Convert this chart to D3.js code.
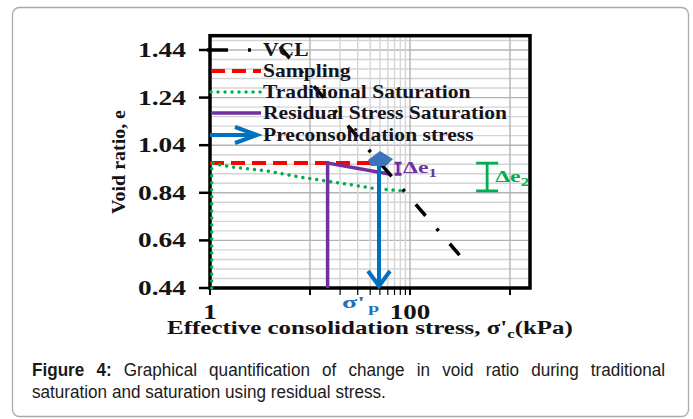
<!DOCTYPE html>
<html>
<head>
<meta charset="utf-8">
<script src="https://cdn.jsdelivr.net/npm/d3@7"></script>
<style>
  body { margin: 0; background: #fff; }
</style>
</head>
<body>
<script>
    // values (stress in kPa, e = void ratio)
    const vcl = [{ s: 5.0, e: 1.453 }, { s: 325, e: 0.57 }];
    const sampling = [{ s: 1, e: 0.965 }, { s: 50, e: 0.965 }];
    const traditional = [
      { s: 1.04, e: 0.44 }, { s: 1.04, e: 0.965 }, { s: 1.15, e: 0.96 },
      { s: 1.7, e: 0.948 }, { s: 3.7, e: 0.932 }, { s: 7.9, e: 0.906 },
      { s: 20, e: 0.881 }, { s: 44, e: 0.858 }, { s: 85, e: 0.848 }
    ];
    const residual = [{ s: 15, e: 0.44 }, { s: 15, e: 0.965 }, { s: 64, e: 0.918 }];
    const precon = 49;               // sigma'p
    const de1At = 76, de2At = 591;   // where the delta-e bars stand

    const yTicks = [0.44, 0.64, 0.84, 1.04, 1.24, 1.44];
    const xTickLabels = [1, 100];
    const xTickMarks = [1, 10, 20, 30, 40, 50, 60, 70, 80, 90, 100, 1000];
    const legendNames = ["VCL", "Sampling", "Traditional Saturation",
      "Residual Stress Saturation", "Preconsolidation stress"];
    const captionLine1 = ["Graphical", "quantification", "of", "change", "in", "void", "ratio", "during", "traditional"];
    const captionLine2 = "saturation and saturation using residual stress.";

    const W = 693, H = 419;
    const serif = "'Liberation Serif','Times New Roman',serif";

    const svg = d3.select("body").append("svg")
      .attr("width", W).attr("height", H)
      .style("font-family", serif);

    // card outline
    svg.append("rect")
      .attr("x", 12.5).attr("y", 7.5).attr("width", 676).attr("height", 409)
      .attr("rx", 7).attr("fill", "#fff").attr("stroke", "#a9a9a9").attr("stroke-width", 1.3);

    const x = d3.scaleLog().domain([1, 1585]).range([210, 530]);
    const y = d3.scaleLinear().domain([0.44, 1.50]).range([288, 35.7]);

    // stretch a text element horizontally so that it is `w` px wide
    function place(t, px, py, w, rot) {
      const n = t.node().getComputedTextLength();
      const sx = w ? w / n : 1;
      t.attr("transform", `translate(${px},${py})${rot ? " rotate(" + rot + ")" : ""} scale(${sx},1)`);
      return sx;
    }

    // grid
    const grid = svg.append("g");
    const yGrid = d3.range(0.48, 1.495, 0.04);
    const isMajorY = v => Math.abs((v - 0.44) / 0.2 - Math.round((v - 0.44) / 0.2)) < 1e-6;
    grid.selectAll(".gy").data(yGrid).join("line")
      .attr("x1", 210).attr("x2", 530)
      .attr("y1", d => y(d)).attr("y2", d => y(d))
      .attr("stroke", d => isMajorY(d) ? "#b3b3b3" : "#d4d4d4")
      .attr("stroke-width", 1.4);
    const xGrid = xTickMarks.filter(d => d > 1);
    const isMajorX = v => Math.abs(Math.log10(v) - Math.round(Math.log10(v))) < 1e-6;
    grid.selectAll(".gx").data(xGrid).join("line")
      .attr("x1", d => x(d)).attr("x2", d => x(d))
      .attr("y1", y(1.50)).attr("y2", 288)
      .attr("stroke", d => isMajorX(d) ? "#b3b3b3" : "#d4d4d4")
      .attr("stroke-width", 1.4);

    // frame
    svg.append("rect")
      .attr("x", 210).attr("y", y(1.50)).attr("width", 320).attr("height", 288 - y(1.50))
      .attr("fill", "none").attr("stroke", "#000").attr("stroke-width", 3.5);

    // ticks
    svg.selectAll(".ty").data(yTicks).join("line")
      .attr("x1", 199).attr("x2", 210).attr("y1", d => y(d)).attr("y2", d => y(d))
      .attr("stroke", "#000").attr("stroke-width", 2.5);
    svg.selectAll(".tx").data(xTickMarks).join("line")
      .attr("x1", d => x(d)).attr("x2", d => x(d)).attr("y1", 288).attr("y2", 295)
      .attr("stroke", "#000").attr("stroke-width", d => isMajorX(d) ? 2 : 1.2);

    const tickStyle = t => t.attr("font-weight", "bold").attr("fill", "#141414");
    yTicks.forEach(v => {
      const t = svg.append("text").text(v.toFixed(2)).attr("text-anchor", "end")
        .attr("font-size", 21).call(tickStyle);
      place(t, 186, y(v) + 7, 48);
    });
    xTickLabels.forEach(v => {
      const t = svg.append("text").text(v).attr("text-anchor", "middle")
        .attr("font-size", 20).call(tickStyle);
      place(t, x(v), 319, String(v).length * 13.5);
    });

    // axis titles
    const xt = svg.append("text").attr("text-anchor", "middle").attr("font-size", 18)
      .attr("font-weight", "bold").attr("fill", "#141414");
    xt.append("tspan").text("Effective consolidation stress, \u03c3'");
    xt.append("tspan").text("c").attr("font-size", 12).attr("dy", 4);
    xt.append("tspan").text("(kPa)").attr("dy", -4);
    place(xt, 370, 334, 406);

    const yt = svg.append("text").text("Void ratio, e").attr("text-anchor", "middle")
      .attr("font-size", 19).attr("font-weight", "bold").attr("fill", "#141414");
    place(yt, 125, 162, 104, -90);

    // series
    const line = d3.line().x(d => x(d.s)).y(d => y(d.e));
    const styles = [
      { color: "#000", width: 3.5, dash: "15,17,3,17", cap: "butt" },
      { color: "#ff0000", width: 4, dash: "14,7", cap: "butt" },
      { color: "#00b050", width: 3.5, dash: "0.01,7", cap: "round" },
      { color: "#7030a0", width: 3.5, dash: null, cap: "butt" },
      { color: "#0070c0", width: 4, dash: null, cap: "butt" }
    ];
    const series = [vcl, sampling, traditional, residual];
    const drawOrder = [1, 2, 3, 0];
    drawOrder.forEach(i => {
      const st = styles[i];
      svg.append("path").datum(series[i]).attr("d", line)
        .attr("fill", "none").attr("stroke", st.color).attr("stroke-width", st.width)
        .attr("stroke-dasharray", st.dash).attr("stroke-linecap", st.cap);
    });

    // preconsolidation arrow
    const px = x(precon), pTop = y(sampling[0].e);
    svg.append("line").attr("x1", px).attr("x2", px).attr("y1", pTop).attr("y2", 286)
      .attr("stroke", styles[4].color).attr("stroke-width", 4);
    svg.append("path")
      .attr("d", `M${px - 11},${271}L${px},${286}L${px + 11},${271}`)
      .attr("fill", "none").attr("stroke", styles[4].color).attr("stroke-width", 4);
    svg.append("path")
      .attr("d", `M${px - 11},${pTop - 3}L${px + 1},${pTop - 12}L${px + 14},${pTop - 4}L${px + 7},${pTop + 3}L${px - 8},${pTop + 3}Z`)
      .attr("fill", "#3d75b8");

    const sp = svg.append("text").attr("font-size", 17).attr("font-weight", "bold").attr("fill", "#1f6fc0");
    sp.append("tspan").text("\u03c3'");
    sp.append("tspan").text("p").attr("font-size", 12).attr("dy", 4).attr("dx", 2);
    place(sp, px - 37, 308, 34);

    // delta-e bars and labels
    function deltaBar(sAt, eHi, eLo, half, color, sub, tx, ty) {
      const bx = x(sAt);
      svg.append("path")
        .attr("d", `M${bx - half},${y(eHi)}H${bx + half}M${bx},${y(eHi)}V${y(eLo)}M${bx - half},${y(eLo)}H${bx + half}`)
        .attr("fill", "none").attr("stroke", color).attr("stroke-width", 2.8);
      const t = svg.append("text").attr("font-size", 17).attr("font-weight", "bold").attr("fill", color);
      t.append("tspan").text("\u0394e");
      t.append("tspan").text(sub).attr("font-size", 12).attr("dy", 4);
      place(t, tx, ty, 34);
    }
    deltaBar(de1At, sampling[0].e, residual[2].e, 3.5, styles[3].color, "1", x(de1At) + 5, 173);
    deltaBar(de2At, sampling[0].e, traditional[traditional.length - 1].e, 11, styles[2].color, "2", x(de2At) + 8, 182);

    // legend
    const legY = [50, 71, 92, 113, 135];
    const legTexts = legendNames.map(name =>
      svg.append("text").text(name).attr("font-size", 18).attr("font-weight", "bold").attr("fill", "#141420"));
    const legSx = 244 / legTexts[3].node().getComputedTextLength();
    legTexts.forEach((t, i) => t.attr("transform", `translate(263,${legY[i] + 6}) scale(${legSx},1)`));
    legendNames.forEach((name, i) => {
      const st = styles[i], ly = legY[i];
      if (i === 4) {
        svg.append("line").attr("x1", 210).attr("x2", 255).attr("y1", ly).attr("y2", ly)
          .attr("stroke", st.color).attr("stroke-width", st.width);
        svg.append("path").attr("d", `M235,${ly - 8}L257,${ly}L235,${ly + 8}`)
          .attr("fill", "none").attr("stroke", st.color).attr("stroke-width", st.width);
      } else {
        svg.append("line").attr("x1", i === 0 ? 207 : 211).attr("x2", 261).attr("y1", ly).attr("y2", ly)
          .attr("stroke", st.color).attr("stroke-width", st.width)
          .attr("stroke-dasharray", i === 0 ? "21,20,3,20" : st.dash).attr("stroke-linecap", st.cap);
      }
    });

    // caption, slightly condensed, first line justified to the card width
    const cap = svg.append("g")
      .style("font-family", "'Liberation Sans',Arial,sans-serif")
      .attr("font-size", 18.5).attr("fill", "#1a1a1a");
    const l2 = cap.append("text").text(captionLine2);
    const capSx = 354 / l2.node().getComputedTextLength();
    l2.attr("transform", `translate(32,398) scale(${capSx},1)`);

    const g1 = cap.append("g").attr("transform", `translate(32,376) scale(${capSx},1)`);
    const words = [{ t: "Figure", b: true }, { t: "4:", b: true }]
      .concat(captionLine1.map(t => ({ t, b: false })));
    const nodes = words.map(w => g1.append("text").text(w.t).attr("font-weight", w.b ? "bold" : "normal"));
    const widths = nodes.map(n => n.node().getComputedTextLength());
    const gap = (633 / capSx - d3.sum(widths)) / (words.length - 1);
    let cx = 0;
    nodes.forEach((n, i) => { n.attr("x", cx); cx += widths[i] + gap; });
</script>
</body>
</html>
